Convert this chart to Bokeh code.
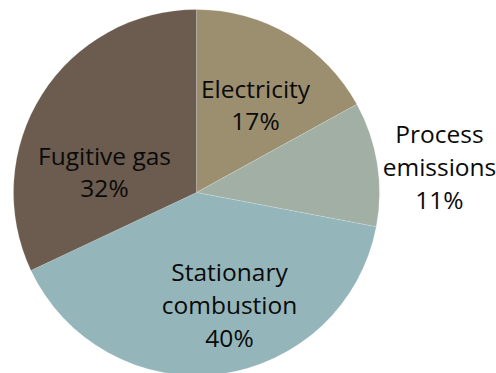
import math
from bokeh.plotting import figure
from bokeh.models import ColumnDataSource, Range1d
from bokeh.core.properties import value
from bokeh.embed import file_html
from bokeh.resources import INLINE

# Emission sources and their shares (percent)
labels = ["Electricity", "Process\nemissions", "Stationary\ncombustion", "Fugitive gas"]
shares = [17, 11, 40, 32]
colors = ["#9b8f70", "#a1afa4", "#94b6bb", "#6b5c4f"]

# Label anchor points (pixels from the pie centre, y downwards)
label_dx = [59, 243, 33, -92]
label_dy = [-88, -26, 112, -21]

W, H = 496, 373
cx, cy, r = 196, H - 192, 183

total = sum(shares)
starts, ends = [], []
acc = 0.0
for s in shares:
    a0 = math.pi / 2 - 2 * math.pi * acc / total
    acc += s
    a1 = math.pi / 2 - 2 * math.pi * acc / total
    starts.append(a0)
    ends.append(a1)

src = ColumnDataSource(dict(start=starts, end=ends, color=colors))

p = figure(width=W, height=H, x_range=Range1d(0, W), y_range=Range1d(0, H),
           output_backend="svg", toolbar_location=None,
           x_axis_type=None, y_axis_type=None, min_border=0)
p.outline_line_color = None
p.grid.visible = False
p.background_fill_color = "white"
p.border_fill_color = "white"

p.wedge(x=cx, y=cy, radius=r, start_angle="start", end_angle="end",
        direction="clock", fill_color="color", line_color="white",
        line_alpha=0.35, line_width=0.5, source=src)

texts = [f"{lab}\n{s}%" for lab, s in zip(labels, shares)]
tx = [cx + dx for dx in label_dx]
ty = [cy - dy for dy in label_dy]
p.text(x=tx, y=ty, text=texts, text_align="center", text_baseline="middle",
       text_font=value("Open Sans"), text_font_size="24.5px",
       text_line_height=0.99, text_color="#0a0a0a")

open("out.html", "w").write(file_html(p, INLINE))
